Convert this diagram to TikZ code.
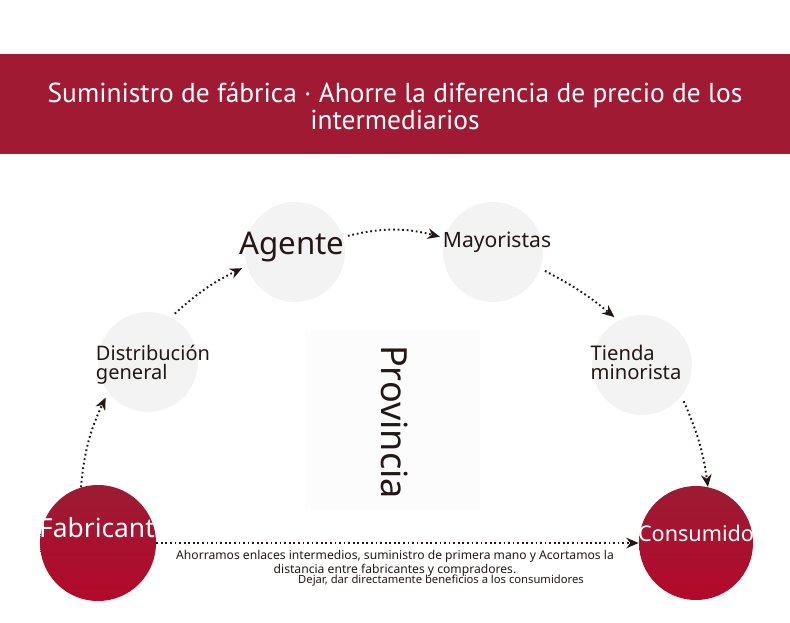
\documentclass[tikz,border=0pt]{standalone}
\usepackage{fontspec}
\setmainfont{Noto Sans}
\newfontfamily\headfont{PT Sans}
\usetikzlibrary{arrows.meta, positioning, calc}
\definecolor{ink}{HTML}{231815}
\definecolor{banner}{HTML}{A01A34}
\definecolor{haze}{HTML}{F3F3F3}
\definecolor{wine}{HTML}{9C1B33}
\definecolor{winelow}{HTML}{B4092B}

\tikzset{
  stage/.style={circle, fill=haze, minimum size=100*0.02cm, inner sep=0pt, outer sep=3pt},
  endpt/.style={circle, top color=wine, bottom color=winelow, minimum size=116*0.02cm, inner sep=0pt},
  lbl/.style={inner sep=0pt, text=ink, align=left},
  flow/.style={ink, line width=1.1pt, dash pattern=on 1pt off 1.6pt, -{Stealth[length=7pt,width=6pt]}}
}

\begin{document}
\begin{tikzpicture}[x=0.02cm, y=0.02cm]
    \useasboundingbox (0,0) rectangle (790,622);
    % banner
    \fill[banner](0,468)rectangle(790,568);
    \node[text=white, align=center, inner sep=0pt, font=\headfont\fontsize{15.6}{15.4}\selectfont] (title) at (395,516)
      {Suministro de fábrica · Ahorre la diferencia de precio de los\\intermediarios};
    % faint middle panel
    \fill[black!1](305,112)rectangle(480,292);
    \node[rotate=-90, inner sep=0pt, text=ink, font=\fontsize{20.5}{22}\selectfont] (prov) at (395,200) {Provincia};
    % stages
    \node[stage] (dist) at (148,260) {};
    \node[stage] (agc) at (295,370) {};
    \node[stage] (may) at (493,370) {};
    \node[stage] (tie) at (642,257) {};
    \node[endpt] (fab) at (98,79) {};
    \node[endpt, minimum size=114*0.02cm] (con) at (696,79) {};
    % labels
    \node[lbl, font=\fontsize{11.4}{10.8}\selectfont] (distl) at (153,257) {Distribución\\general};
    \node[lbl, font=\fontsize{17.8}{20}\selectfont] (agl) at (292,375) {Agente};
    \node[lbl, font=\fontsize{12}{12}\selectfont] (mayl) at (497,380) {Mayoristas};
    \node[lbl, font=\fontsize{11.5}{10.8}\selectfont] (tiel) at (636,260) {Tienda\\minorista};
    \node[lbl, text=white, font=\fontsize{15}{15}\selectfont] (fabl) at (97,94) {Fabricant};
    \node[lbl, text=white, font=\fontsize{12.3}{14}\selectfont] (conl) at (696,89) {Consumido};
    % flows
    \draw[flow] (fab.107) to[bend left=10] (dist.220);
    \draw[flow] (dist.61) to[bend left=8] (agc.197);
    \draw[flow] (agc.17) to[bend left=14] (may.164);
    \draw[flow] (may.-20) to[bend left=6] (tie.120);
    \draw[flow] (tie.-41) to[bend left=8] (con.78);
    \draw[flow] (fab.east) -- (con.west);
    % note
    \node[inner sep=0pt, text=ink, align=center, font=\fontsize{6.9}{8}\selectfont] (note) at (395,59)
      {Ahorramos enlaces intermedios, suministro de primera mano y Acortamos la\\distancia entre fabricantes y compradores.};
    \node[inner sep=0pt, text=ink, font=\fontsize{6.4}{7}\selectfont] (note2) at (441,41)
      {Dejar, dar directamente beneficios a los consumidores};
\end{tikzpicture}
\end{document}
